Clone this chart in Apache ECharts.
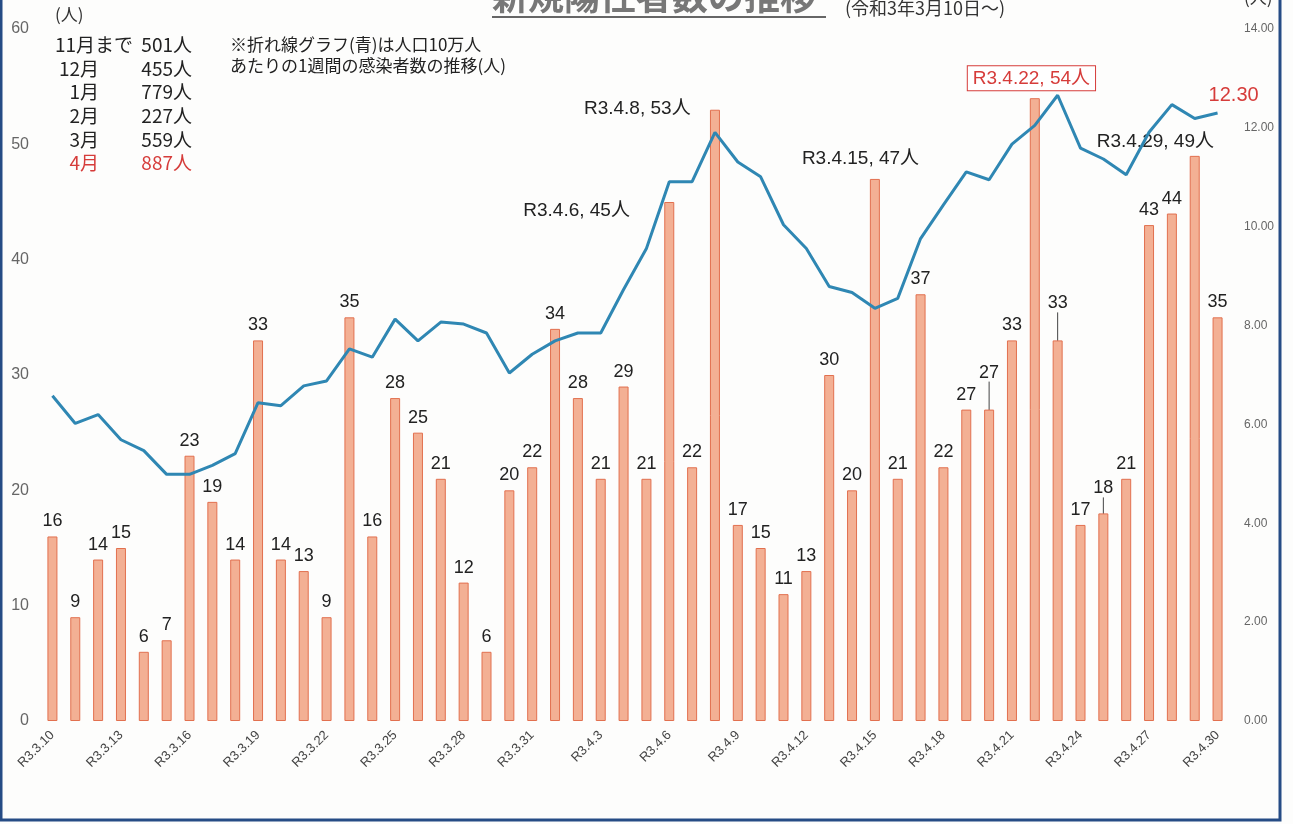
<!DOCTYPE html>
<html>
<head>
<meta charset="utf-8">
<script src="https://cdn.jsdelivr.net/npm/echarts@6/dist/echarts.min.js"></script>
<style>
  html, body { margin: 0; padding: 0; background: #fdfdfc; }
  #chart { width: 1293px; height: 824px; }
</style>
</head>
<body>
<div id="chart"></div>
<script>
// 日付（R3.3.10 ～ R3.4.30）
const dates = [
  'R3.3.10', 'R3.3.11', 'R3.3.12', 'R3.3.13', 'R3.3.14', 'R3.3.15', 'R3.3.16', 'R3.3.17',
  'R3.3.18', 'R3.3.19', 'R3.3.20', 'R3.3.21', 'R3.3.22', 'R3.3.23', 'R3.3.24', 'R3.3.25',
  'R3.3.26', 'R3.3.27', 'R3.3.28', 'R3.3.29', 'R3.3.30', 'R3.3.31',
  'R3.4.1', 'R3.4.2', 'R3.4.3', 'R3.4.4', 'R3.4.5', 'R3.4.6', 'R3.4.7', 'R3.4.8',
  'R3.4.9', 'R3.4.10', 'R3.4.11', 'R3.4.12', 'R3.4.13', 'R3.4.14', 'R3.4.15', 'R3.4.16',
  'R3.4.17', 'R3.4.18', 'R3.4.19', 'R3.4.20', 'R3.4.21', 'R3.4.22', 'R3.4.23', 'R3.4.24',
  'R3.4.25', 'R3.4.26', 'R3.4.27', 'R3.4.28', 'R3.4.29', 'R3.4.30'
]
// 新規陽性者数（人）
const cases = [
  16, 9, 14, 15, 6, 7, 23, 19, 14, 33, 14, 13, 9, 35, 16, 28, 25, 21, 12, 6, 20, 22,
  34, 28, 21, 29, 21, 45, 22, 53, 17, 15, 11, 13, 30, 20, 47, 21, 37, 22, 27, 27,
  33, 54, 33, 17, 18, 21, 43, 44, 49, 35
]
// 人口10万人あたりの1週間の感染者数
const weekly = [
  6.58, 6.02, 6.20, 5.69, 5.47, 4.99, 4.99, 5.17, 5.41, 6.44, 6.38, 6.78, 6.88, 7.53,
  7.36, 8.13, 7.69, 8.07, 8.03, 7.85, 7.04, 7.42, 7.69, 7.85, 7.85, 8.73, 9.56, 10.91,
  10.91, 11.91, 11.31, 11.01, 10.04, 9.56, 8.79, 8.67, 8.35, 8.55, 9.76, 10.44, 11.11,
  10.95, 11.67, 12.05, 12.66, 11.59, 11.37, 11.05, 11.91, 12.47, 12.19, 12.30
]
// 月別累計
const months = ['11月まで', '12月', '1月', '2月', '3月', '4月']
const monthTotals = ['501人', '455人', '779人', '227人', '559人', '887人']

const leftTicks = [0, 60, 10]
const rightTicks = [0, 14, 2]

// 吹き出し表示する日（index: [text, dx, dy]）
const callouts = {
  27: ['R3.4.6, 45人', -141, -1],
  29: ['R3.4.8, 53人', -126, -10],
  36: ['R3.4.15, 47人', -68, -30],
  43: ['R3.4.22, 54人', -62, -32],
  50: ['R3.4.29, 49人', -93, -24]
}
// ずらして表示するラベル
const moved = { 41: -22, 44: -22, 46: -10 }

const NUM_FONT = '"Liberation Sans", Arial, sans-serif'
const JP_FONT = '"Noto Sans CJK JP", sans-serif'
const MIX_FONT = '"Liberation Sans", "Noto Sans CJK JP", sans-serif'

const barData = cases.map((v, i) => {
  const c = callouts[i]
  if (moved[i]) {
    return { value: v, labelLine: { show: true } }
  }
  if (!c) return v
  const item = {
    value: v,
    label: {
      formatter: c[0],
      position: [c[1], c[2]],
      align: 'left',
      verticalAlign: 'top',
      fontFamily: MIX_FONT,
      fontSize: 19,
      color: '#222'
    }
  }
  if (i === 43) {
    item.label.color = '#d63c3a'
    item.label.borderColor = '#d63c3a'
    item.label.borderWidth = 1
    item.label.padding = [3, 5, 2, 5]
    item.label.backgroundColor = '#fff'
  }
  return item
})

const chartDom = echarts.init(document.getElementById('chart'))

const legendTexts = []
months.forEach((m, i) => {
  const y = 45 + i * 23.6
  const red = i === months.length - 1
  legendTexts.push({
    type: 'text',
    x: i === 0 ? 55 : 99,
    y: y,
    style: {
      text: m,
      font: '19px ' + JP_FONT,
      fill: red ? '#d63c3a' : '#222',
      align: i === 0 ? 'left' : 'right',
      verticalAlign: 'middle'
    }
  })
  legendTexts.push({
    type: 'text',
    x: 192,
    y: y,
    style: {
      text: monthTotals[i],
      font: '19px ' + JP_FONT,
      fill: red ? '#d63c3a' : '#222',
      align: 'right',
      verticalAlign: 'middle'
    }
  })
})

const option = {
  backgroundColor: '#fdfdfc',
  animation: false,
  grid: {
    left: 41,
    right: 64,
    top: 29,
    bottom: 103
  },
  xAxis: {
    type: 'category',
    data: dates,
    axisLine: { show: false },
    axisTick: { show: false },
    axisLabel: {
      interval: 2,
      rotate: 45,
      margin: 12,
      fontSize: 13,
      color: '#444',
      fontFamily: NUM_FONT
    }
  },
  yAxis: [
    {
      type: 'value',
      min: leftTicks[0],
      max: leftTicks[1],
      interval: leftTicks[2],
      axisLine: { show: false },
      axisTick: { show: false },
      splitLine: { show: false },
      axisLabel: {
        margin: 12,
        fontSize: 16,
        color: '#666',
        fontFamily: NUM_FONT
      }
    },
    {
      type: 'value',
      min: rightTicks[0],
      max: rightTicks[1],
      interval: rightTicks[2],
      position: 'right',
      axisLine: { show: false },
      axisTick: { show: false },
      splitLine: { show: false },
      axisLabel: {
        margin: 15,
        fontSize: 12,
        color: '#666',
        fontFamily: NUM_FONT,
        formatter: v => v.toFixed(2)
      }
    }
  ],
  series: [
    {
      name: '新規陽性者数',
      type: 'bar',
      barWidth: 10,
      data: barData,
      itemStyle: {
        color: '#f3b094',
        borderColor: '#e2704f',
        borderWidth: 1
      },
      label: {
        show: true,
        position: 'top',
        distance: 6,
        fontSize: 18,
        color: '#222',
        fontFamily: NUM_FONT
      },
      labelLine: { show: false, lineStyle: { color: '#444', width: 1 } },
      labelLayout: p => (moved[p.dataIndex] ? { dy: moved[p.dataIndex] } : {}),
      z: 2
    },
    {
      name: '人口10万人あたり',
      type: 'line',
      yAxisIndex: 1,
      data: weekly,
      showSymbol: false,
      symbol: 'none',
      lineStyle: { color: '#2f87b3', width: 3 },
      endLabel: {
        show: true,
        formatter: p => p.value.toFixed(2),
        offset: [-17, -18],
        color: '#d63c3a',
        fontSize: 20,
        fontFamily: NUM_FONT
      },
      z: 3
    }
  ],
  graphic: [
    // 外枠
    {
      type: 'rect',
      shape: { x: 1, y: -10, width: 1279, height: 830 },
      style: { fill: 'none', stroke: '#264c85', lineWidth: 3 },
      silent: true
    },
    // タイトル
    {
      type: 'text',
      x: 492,
      y: -4,
      style: {
        text: '新規陽性者数の推移',
        font: 'bold 36px ' + JP_FONT,
        fill: '#777',
        verticalAlign: 'middle'
      }
    },
    {
      type: 'line',
      shape: { x1: 492, y1: 17, x2: 826, y2: 17 },
      style: { stroke: '#666', lineWidth: 2 }
    },
    {
      type: 'text',
      x: 845,
      y: 8,
      style: {
        text: '(令和3年3月10日～)',
        font: '18px ' + JP_FONT,
        fill: '#333',
        verticalAlign: 'middle'
      }
    },
    {
      type: 'text',
      x: 55,
      y: 15,
      style: { text: '(人)', font: '17px ' + JP_FONT, fill: '#333', verticalAlign: 'middle' }
    },
    {
      type: 'text',
      x: 1244,
      y: -2,
      style: { text: '(人)', font: '17px ' + JP_FONT, fill: '#333', verticalAlign: 'middle' }
    },
    {
      type: 'text',
      x: 230,
      y: 45,
      style: {
        text: '※折れ線グラフ(青)は人口10万人',
        font: '17px ' + JP_FONT,
        fill: '#222',
        verticalAlign: 'middle'
      }
    },
    {
      type: 'text',
      x: 230,
      y: 66,
      style: {
        text: 'あたりの1週間の感染者数の推移(人)',
        font: '17px ' + JP_FONT,
        fill: '#222',
        verticalAlign: 'middle'
      }
    }
  ].concat(legendTexts)
}

chartDom.setOption(option)
</script>
</body>
</html>
